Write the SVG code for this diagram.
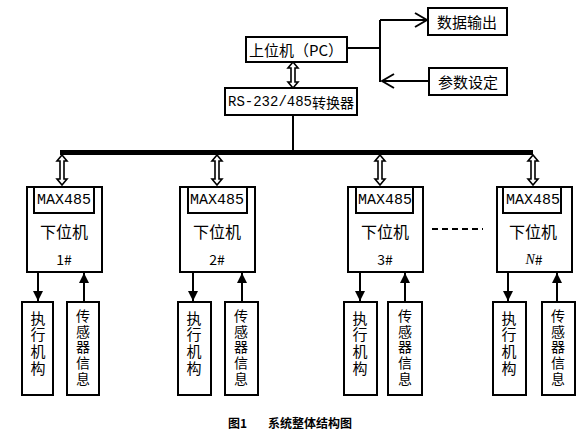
<svg xmlns="http://www.w3.org/2000/svg" width="580" height="433" viewBox="0 0 580 433">
<defs>
<style>
.box{fill:#fff;stroke:#000;stroke-width:2}
.ln{fill:none;stroke:#000;stroke-width:2}
.dbl{fill:#fff;stroke:#000;stroke-width:1.6;stroke-linejoin:miter}
.cjk{font-family:"Noto Sans CJK SC","Noto Sans CJK JP",sans-serif;fill:#000}
.mono{font-family:"Liberation Mono","DejaVu Sans Mono",monospace;fill:#000}
.t15{font-size:15px}
.t14{font-size:14px}
.t16{font-size:16px}
.mid{text-anchor:middle;dominant-baseline:central}
.vt{writing-mode:vertical-rl;text-orientation:upright;text-anchor:middle}
.va{font-size:15px;letter-spacing:1.7px}
.vs{font-size:14px;letter-spacing:1.75px}
</style>
<marker id="fa" viewBox="0 0 10 10" refX="10" refY="5" markerWidth="10" markerHeight="10" markerUnits="userSpaceOnUse" orient="auto">
<path d="M0,0 L10,5 L0,10 Z" fill="#000"/>
</marker>
<marker id="oa" viewBox="0 0 14 16" refX="13" refY="8" markerWidth="14" markerHeight="16" markerUnits="userSpaceOnUse" orient="auto">
<path d="M1,1 L13,8 L1,15" fill="none" stroke="#000" stroke-width="2"/>
</marker>
</defs>
<rect width="580" height="433" fill="#fff"/>

<g id="connectors">
<path class="ln" d="M347,48 H380"/>
<path class="ln" d="M380,20 V82"/>
<path class="ln" d="M380,20 H427" marker-end="url(#oa)"/>
<path class="ln" d="M429,81 H382" marker-end="url(#oa)"/>
<path class="dbl" d="M293,62 L298,68 L295,68 L295,82 L298,82 L293,88 L288,82 L291,82 L291,68 L288,68 Z"/>
<path class="ln" d="M293,115 V150"/>
<rect x="60" y="150" width="473" height="5" fill="#000"/>
<path class="dbl" d="M62,155 L67,161 L64,161 L64,179 L67,179 L62,185 L57,179 L60,179 L60,161 L57,161 Z"/>
<path class="dbl" d="M217,155 L222,161 L219,161 L219,179 L222,179 L217,185 L212,179 L215,179 L215,161 L212,161 Z"/>
<path class="dbl" d="M380,155 L385,161 L382,161 L382,179 L385,179 L380,185 L375,179 L378,179 L378,161 L375,161 Z"/>
<path class="dbl" d="M533,155 L538,161 L535,161 L535,179 L538,179 L533,185 L528,179 L531,179 L531,161 L528,161 Z"/>
<path d="M432,229 H483" stroke="#000" stroke-width="2" stroke-dasharray="6,4"/>
<path class="ln" d="M38,272 V301" marker-end="url(#fa)"/>
<path class="ln" d="M84,302 V273" marker-end="url(#fa)"/>
<path class="ln" d="M193,272 V301" marker-end="url(#fa)"/>
<path class="ln" d="M242,302 V273" marker-end="url(#fa)"/>
<path class="ln" d="M360,272 V301" marker-end="url(#fa)"/>
<path class="ln" d="M405,302 V273" marker-end="url(#fa)"/>
<path class="ln" d="M508,272 V301" marker-end="url(#fa)"/>
<path class="ln" d="M557,302 V273" marker-end="url(#fa)"/>
</g>

<g id="pc">
<rect class="box" x="246" y="37" width="101" height="25"/>
<text class="cjk t15 mid" x="296" y="49">上位机（PC）</text>
</g>
<g id="data-out">
<rect class="box" x="428" y="8" width="79" height="27"/>
<text class="cjk t15 mid" x="467" y="21">数据输出</text>
</g>
<g id="param-set">
<rect class="box" x="429" y="68" width="78" height="27"/>
<text class="cjk t15 mid" x="468" y="81">参数设定</text>
</g>
<g id="rs-converter">
<rect class="box" x="225" y="88" width="132" height="27"/>
<text class="mid" x="291" y="102"><tspan class="mono t14">RS-232/485</tspan><tspan class="cjk t14">转换器</tspan></text>
</g>

<g id="slave1">
<rect class="box" x="27" y="187" width="75" height="85"/>
<rect class="box" x="34" y="187" width="60" height="26"/>
<text class="mono t15 mid" x="64" y="200">MAX485</text>
<text class="cjk t16 mid" x="64" y="231">下位机</text>
<text class="cjk t14 mid" x="64" y="259">1#</text>
</g>
<g id="slave2">
<rect class="box" x="180" y="187" width="75" height="85"/>
<rect class="box" x="188" y="187" width="59" height="26"/>
<text class="mono t15 mid" x="217" y="200">MAX485</text>
<text class="cjk t16 mid" x="217" y="231">下位机</text>
<text class="cjk t14 mid" x="217" y="259">2#</text>
</g>
<g id="slave3">
<rect class="box" x="348" y="187" width="75" height="85"/>
<rect class="box" x="356" y="187" width="57" height="26"/>
<text class="mono t15 mid" x="385" y="200">MAX485</text>
<text class="cjk t16 mid" x="385" y="231">下位机</text>
<text class="cjk t14 mid" x="385" y="259">3#</text>
</g>
<g id="slaveN">
<rect class="box" x="497" y="187" width="75" height="85"/>
<rect class="box" x="503" y="187" width="58" height="26"/>
<text class="mono t15 mid" x="533" y="200">MAX485</text>
<text class="cjk t16 mid" x="533" y="231">下位机</text>
<text class="mid" x="534" y="259"><tspan font-family="Liberation Serif, serif" font-style="italic" font-size="14">N</tspan><tspan class="cjk t14">#</tspan></text>
</g>

<g id="act1">
<rect class="box" x="22" y="302" width="31" height="93"/>
<text class="cjk vt va" x="38" y="344">执行机构</text>
</g>
<g id="sen1">
<rect class="box" x="67" y="302" width="32" height="93"/>
<text class="cjk vt vs" x="83" y="348">传感器信息</text>
</g>
<g id="act2">
<rect class="box" x="178" y="302" width="33" height="93"/>
<text class="cjk vt va" x="194" y="344">执行机构</text>
</g>
<g id="sen2">
<rect class="box" x="225" y="302" width="33" height="93"/>
<text class="cjk vt vs" x="241" y="348">传感器信息</text>
</g>
<g id="act3">
<rect class="box" x="344" y="302" width="33" height="93"/>
<text class="cjk vt va" x="360" y="344">执行机构</text>
</g>
<g id="sen3">
<rect class="box" x="388" y="302" width="34" height="93"/>
<text class="cjk vt vs" x="405" y="348">传感器信息</text>
</g>
<g id="actN">
<rect class="box" x="493" y="302" width="33" height="93"/>
<text class="cjk vt va" x="509" y="344">执行机构</text>
</g>
<g id="senN">
<rect class="box" x="542" y="302" width="33" height="93"/>
<text class="cjk vt vs" x="558" y="348">传感器信息</text>
</g>

<g id="caption">
<text class="cjk" font-size="12" font-weight="bold" x="228" y="428">图1</text>
<text class="cjk" font-size="12" font-weight="bold" x="268" y="428">系统整体结构图</text>
</g>
</svg>
